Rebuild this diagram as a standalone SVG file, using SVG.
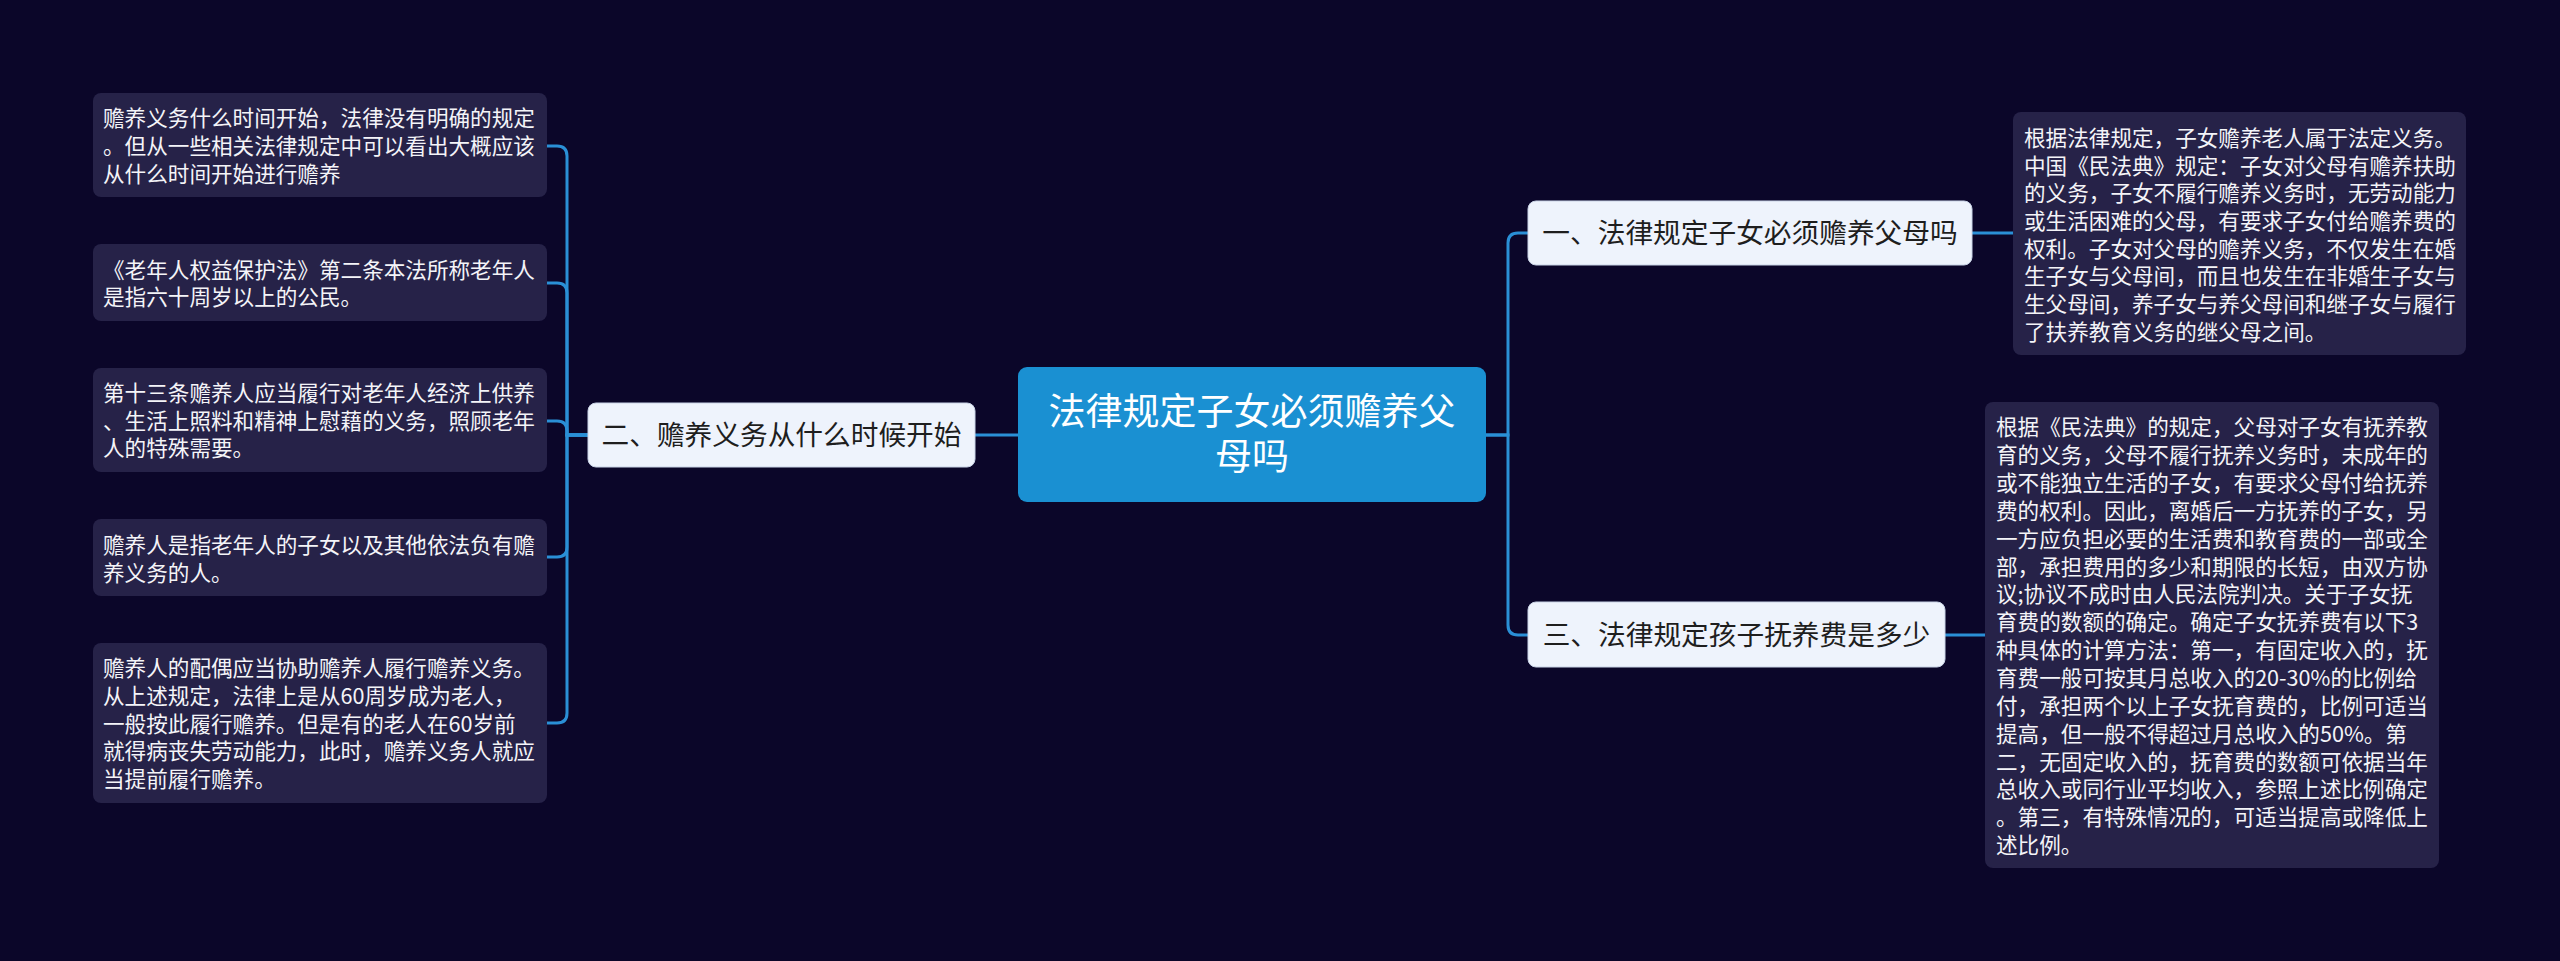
<svg xmlns="http://www.w3.org/2000/svg" width="2560" height="961" viewBox="0 0 2560 961">
<style>
.bg{fill:#0b0629}
.leaf{fill:#262248}
.lt{font-family:"Noto Sans CJK SC","Noto Sans",sans-serif;font-size:21.6px;fill:#f4f4f8}
.node{fill:#eef3fc;stroke:#c9d3e6;stroke-width:1}
.nt{font-family:"Noto Sans CJK SC","Noto Sans",sans-serif;font-size:27.7px;fill:#1e1e1e;text-anchor:middle}
.ct{font-family:"Noto Sans CJK SC","Noto Sans",sans-serif;font-size:37px;fill:#ffffff;text-anchor:middle}
.conn path{fill:none;stroke:#2a8fd6;stroke-width:3}
</style>
<rect class="bg" x="0" y="0" width="2560" height="961"/>
<g id="connectors" class="conn">
<path d="M1018 435 H975"/>
<path d="M588 435 H567 V156 Q567 146 557 146 H547"/>
<path d="M588 435 H567 V293 Q567 283 557 283 H547"/>
<path d="M588 435 H567 V431 Q567 421 557 421 H547"/>
<path d="M588 435 H567 V547 Q567 557 557 557 H547"/>
<path d="M588 435 H567 V713 Q567 723 557 723 H547"/>
<path d="M1486 435 H1508 V243 Q1508 233 1518 233 H1528"/>
<path d="M1486 435 H1508 V625 Q1508 635 1518 635 H1528"/>
<path d="M1972 233 H2013"/>
<path d="M1945 635 H1985"/>
</g>
<g id="center">
<rect x="1018" y="367" width="468" height="135" rx="9" fill="#1a90d2"/>
<text class="ct" x="1252" y="425">法律规定子女必须赡养父</text>
<text class="ct" x="1252" y="470">母吗</text>
</g>
<g id="b2">
<rect class="node" x="588" y="403" width="387" height="64" rx="8"/>
<text class="nt" x="781.5" y="445">二、赡养义务从什么时候开始</text>
</g>
<g id="b1">
<rect class="node" x="1528" y="201" width="444" height="64" rx="8"/>
<text class="nt" x="1750" y="243">一、法律规定子女必须赡养父母吗</text>
</g>
<g id="b3">
<rect class="node" x="1528" y="602" width="417" height="65" rx="8"/>
<text class="nt" x="1736.5" y="645">三、法律规定孩子抚养费是多少</text>
</g>
<g id="l1">
<rect class="leaf" x="93" y="93" width="454" height="104" rx="8"/>
<text class="lt" x="103" y="126">赡养义务什么时间开始，法律没有明确的规定</text>
<text class="lt" x="103" y="154">。但从一些相关法律规定中可以看出大概应该</text>
<text class="lt" x="103" y="182">从什么时间开始进行赡养</text>
</g>
<g id="l2">
<rect class="leaf" x="93" y="244" width="454" height="77" rx="8"/>
<text class="lt" x="103" y="278">《老年人权益保护法》第二条本法所称老年人</text>
<text class="lt" x="103" y="305">是指六十周岁以上的公民。</text>
</g>
<g id="l3">
<rect class="leaf" x="93" y="368" width="454" height="104" rx="8"/>
<text class="lt" x="103" y="401">第十三条赡养人应当履行对老年人经济上供养</text>
<text class="lt" x="103" y="429">、生活上照料和精神上慰藉的义务，照顾老年</text>
<text class="lt" x="103" y="456">人的特殊需要。</text>
</g>
<g id="l4">
<rect class="leaf" x="93" y="519" width="454" height="77" rx="8"/>
<text class="lt" x="103" y="553">赡养人是指老年人的子女以及其他依法负有赡</text>
<text class="lt" x="103" y="581">养义务的人。</text>
</g>
<g id="l5">
<rect class="leaf" x="93" y="643" width="454" height="160" rx="8"/>
<text class="lt" x="103" y="676">赡养人的配偶应当协助赡养人履行赡养义务。</text>
<text class="lt" x="103" y="704">从上述规定，法律上是从60周岁成为老人，</text>
<text class="lt" x="103" y="732">一般按此履行赡养。但是有的老人在60岁前</text>
<text class="lt" x="103" y="759">就得病丧失劳动能力，此时，赡养义务人就应</text>
<text class="lt" x="103" y="787">当提前履行赡养。</text>
</g>
<g id="r1">
<rect class="leaf" x="2013" y="112" width="453" height="243" rx="8"/>
<text class="lt" x="2024" y="146">根据法律规定，子女赡养老人属于法定义务。</text>
<text class="lt" x="2024" y="174">中国《民法典》规定：子女对父母有赡养扶助</text>
<text class="lt" x="2024" y="201">的义务，子女不履行赡养义务时，无劳动能力</text>
<text class="lt" x="2024" y="229">或生活困难的父母，有要求子女付给赡养费的</text>
<text class="lt" x="2024" y="257">权利。子女对父母的赡养义务，不仅发生在婚</text>
<text class="lt" x="2024" y="284">生子女与父母间，而且也发生在非婚生子女与</text>
<text class="lt" x="2024" y="312">生父母间，养子女与养父母间和继子女与履行</text>
<text class="lt" x="2024" y="340">了扶养教育义务的继父母之间。</text>
</g>
<g id="r2">
<rect class="leaf" x="1985" y="402" width="454" height="466" rx="8"/>
<text class="lt" x="1996" y="435">根据《民法典》的规定，父母对子女有抚养教</text>
<text class="lt" x="1996" y="463">育的义务，父母不履行抚养义务时，未成年的</text>
<text class="lt" x="1996" y="491">或不能独立生活的子女，有要求父母付给抚养</text>
<text class="lt" x="1996" y="519">费的权利。因此，离婚后一方抚养的子女，另</text>
<text class="lt" x="1996" y="547">一方应负担必要的生活费和教育费的一部或全</text>
<text class="lt" x="1996" y="575">部，承担费用的多少和期限的长短，由双方协</text>
<text class="lt" x="1996" y="602">议;协议不成时由人民法院判决。关于子女抚</text>
<text class="lt" x="1996" y="630">育费的数额的确定。确定子女抚养费有以下3</text>
<text class="lt" x="1996" y="658">种具体的计算方法：第一，有固定收入的，抚</text>
<text class="lt" x="1996" y="686">育费一般可按其月总收入的20-30%的比例给</text>
<text class="lt" x="1996" y="714">付，承担两个以上子女抚育费的，比例可适当</text>
<text class="lt" x="1996" y="742">提高，但一般不得超过月总收入的50%。第</text>
<text class="lt" x="1996" y="770">二，无固定收入的，抚育费的数额可依据当年</text>
<text class="lt" x="1996" y="797">总收入或同行业平均收入，参照上述比例确定</text>
<text class="lt" x="1996" y="825">。第三，有特殊情况的，可适当提高或降低上</text>
<text class="lt" x="1996" y="853">述比例。</text>
</g>
</svg>
